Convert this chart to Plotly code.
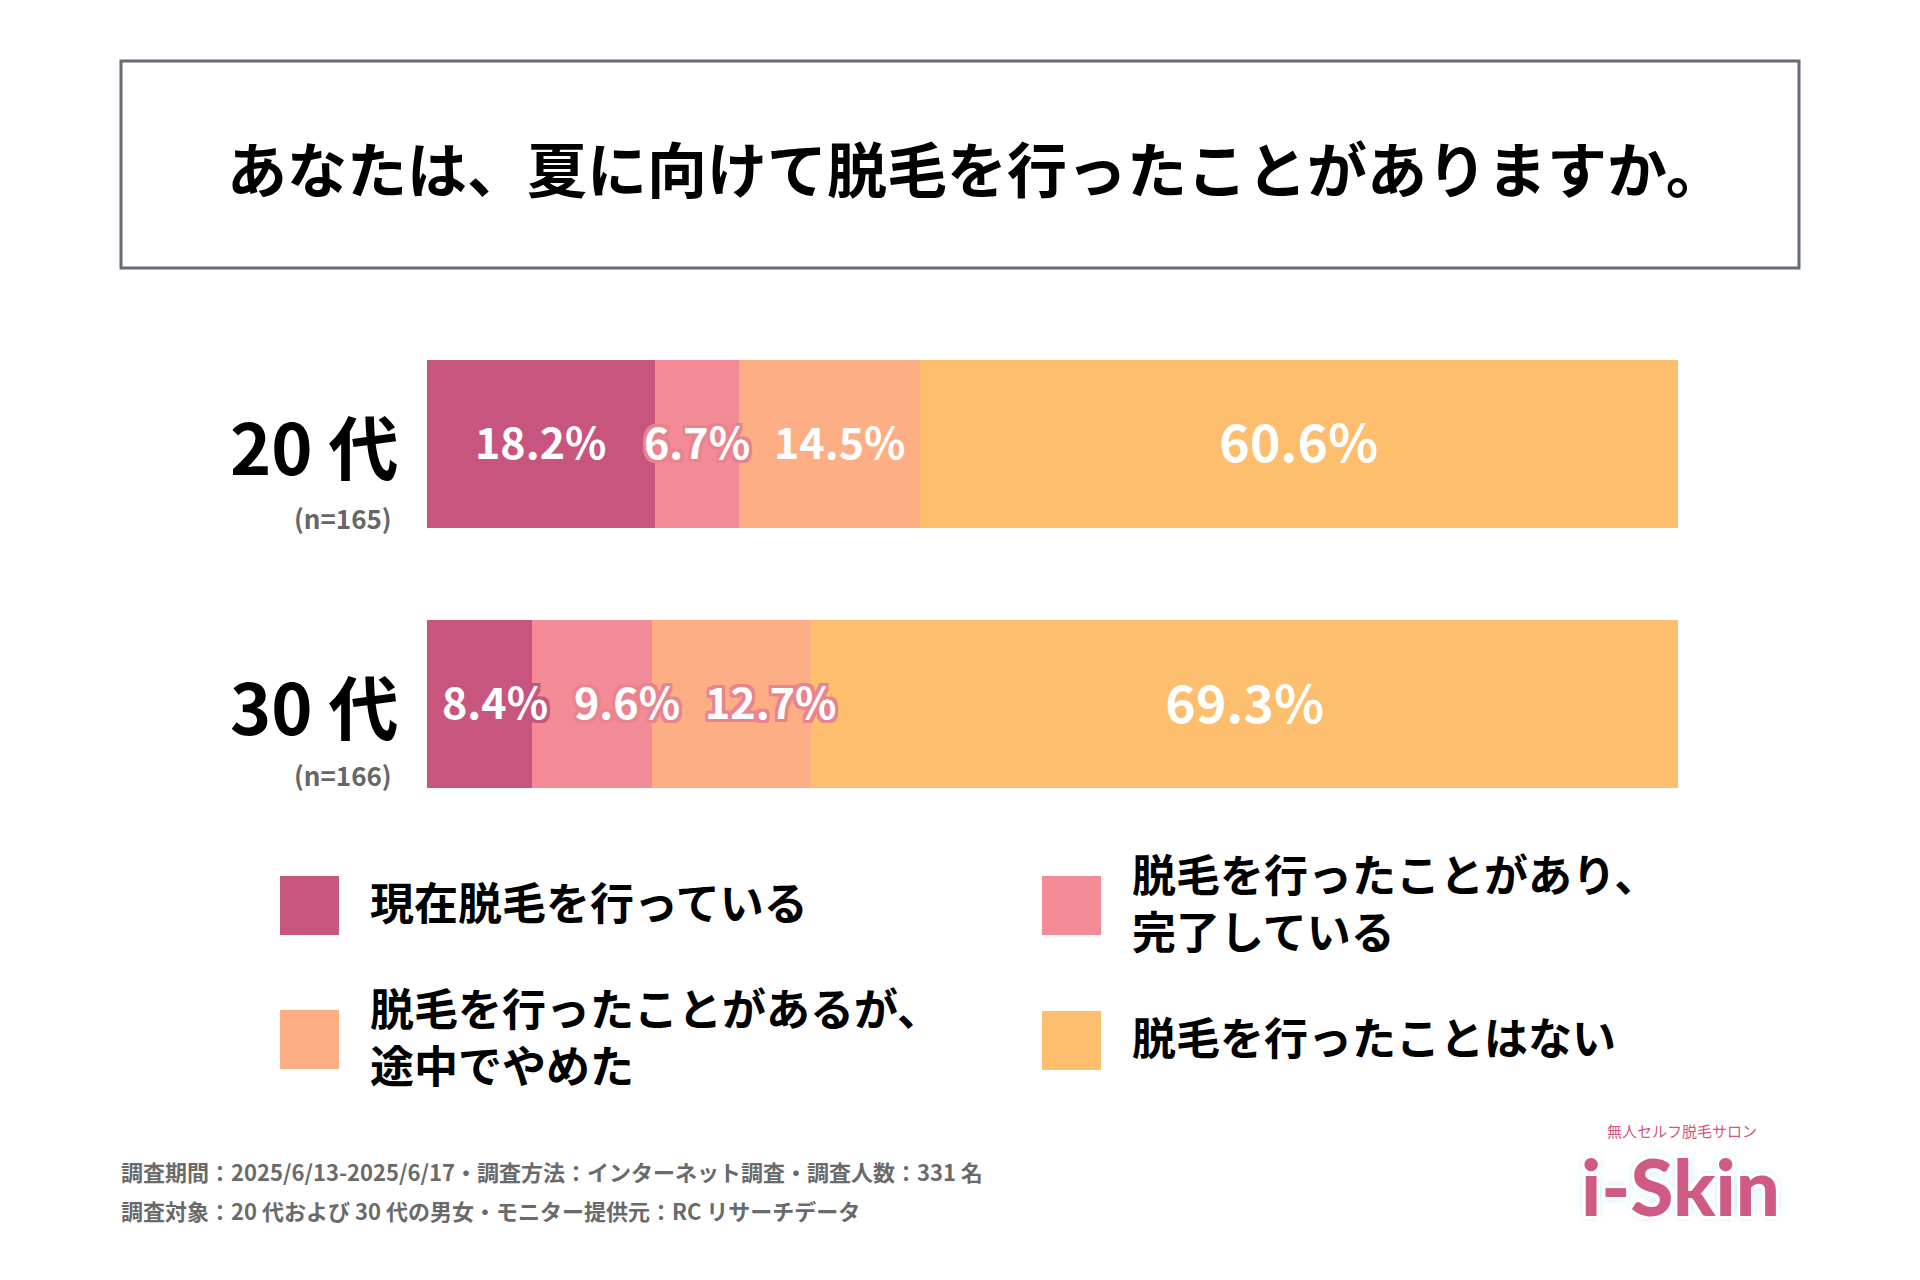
import plotly.graph_objects as go

# ---------------- data ----------------
title_text = "あなたは、夏に向けて脱毛を行ったことがありますか。"
age_groups = ["20代", "30代"]
age_labels = ["20 代", "30 代"]
sample_sizes = ["(n=165)", "(n=166)"]
series_names = [
    "現在脱毛を行っている",
    "脱毛を行ったことがあり、完了している",
    "脱毛を行ったことがあるが、途中でやめた",
    "脱毛を行ったことはない",
]
legend_lines = [
    ["現在脱毛を行っている"],
    ["脱毛を行ったことがあり、", "完了している"],
    ["脱毛を行ったことがあるが、", "途中でやめた"],
    ["脱毛を行ったことはない"],
]
current = [18.2, 8.4]
completed = [6.7, 9.6]
quit_mid = [14.5, 12.7]
never = [60.6, 69.3]
footnotes = [
    "調査期間：2025/6/13-2025/6/17・調査方法：インターネット調査・調査人数：331 名",
    "調査対象：20 代および 30 代の男女・モニター提供元：RC リサーチデータ",
]
logo_sub = "無人セルフ脱毛サロン"
logo_main = "i-Skin"

# ---------------- style ----------------
colors = ["#C8557E", "#F28B95", "#FDAE84", "#FDBF6D"]
FONT = "Noto Sans CJK JP"
LEG_FONT = "Lato, Noto Sans CJK JP"
OFF = 8                      # page body margin
W, H = 1920 - 2 * OFF, 1280 - 2 * OFF

def px(x):
    return (x - OFF) / W

def py(y):
    return 1 - (y - OFF) / H

series = [current, completed, quit_mid, never]

fig = go.Figure()
for name, vals, col in zip(series_names, series, colors):
    fig.add_trace(go.Bar(
        y=age_groups, x=vals, name=name, orientation="h",
        marker=dict(color=col, line=dict(width=0)),
        hoverinfo="skip", showlegend=False,
    ))

# value labels (annotations at segment midpoints)
label_shift = [[0, 0, 11, 0], [15, 35, 39, 0]]
label_size = [43, 43, 43, 52]
outline = [[None, "#E9848F", None, None], ["#C8557E", "#E9848F", "#E9848F", None]]

def outline_shadow(c, w=2):
    if c is None:
        return "none"
    offs = [(-w, -w), (w, -w), (-w, w), (w, w), (0, w), (w, 0), (0, -w), (-w, 0)]
    return ", ".join(f"{a}px {b}px 0 {c}" for a, b in offs)

for gi, g in enumerate(age_groups):
    cum = 0
    for si, vals in enumerate(series):
        v = vals[gi]
        fig.add_annotation(
            x=cum + v / 2, y=g, xref="x", yref="y",
            text=f"{v:.1f}%", showarrow=False,
            xanchor="center", yanchor="middle",
            xshift=label_shift[gi][si], yshift=4,
            font=dict(family=FONT, size=label_size[si], color="white", weight="bold",
                      shadow=outline_shadow(outline[gi][si], 3)),
        )
        cum += v

# category labels
cat_y = [444, 704]
n_y = [518, 774]
for lab, n, cy, ny in zip(age_labels, sample_sizes, cat_y, n_y):
    fig.add_annotation(x=px(401), y=py(cy), xref="paper", yref="paper",
                       text=lab, showarrow=False, xanchor="right", yanchor="middle",
                       font=dict(family=FONT, size=70, color="#000000", weight="bold"))
    fig.add_annotation(x=px(394), y=py(ny), xref="paper", yref="paper",
                       text=n, showarrow=False, xanchor="right", yanchor="middle",
                       font=dict(family=FONT, size=26, color="#666666", weight="bold"))

# title box
fig.add_shape(type="rect", xref="paper", yref="paper",
              x0=px(121), x1=px(1799), y0=py(61), y1=py(268),
              line=dict(color="#646B72", width=3), fillcolor="rgba(0,0,0,0)")
fig.add_annotation(x=px(977), y=py(166), xref="paper", yref="paper",
                   text=title_text, showarrow=False, xanchor="center", yanchor="middle",
                   font=dict(family=FONT, size=60, color="#000000", weight="bold"))

# custom legend
sq = [(280, 876), (1042, 876), (280, 1010), (1042, 1011)]
txt_x = [368, 1130, 368, 1130]
for i in range(4):
    x0, y0 = sq[i]
    fig.add_shape(type="rect", xref="paper", yref="paper",
                  x0=px(x0), x1=px(x0 + 59), y0=py(y0), y1=py(y0 + 59),
                  line=dict(width=0), fillcolor=colors[i])
    fig.add_annotation(x=px(txt_x[i]), y=py(y0 + 27), xref="paper", yref="paper",
                       text="<br>".join(legend_lines[i]), showarrow=False,
                       xanchor="left", yanchor="middle", align="left",
                       font=dict(family=LEG_FONT, size=44, color="#000000", weight="bold"))

# footnotes
for line, ly in zip(footnotes, [1171, 1210]):
    fig.add_annotation(x=px(119), y=py(ly), xref="paper", yref="paper",
                       text=line, showarrow=False, xanchor="left", yanchor="middle",
                       font=dict(family=FONT, size=22, color="#6A6A6A", weight="bold"))

# logo (text approximation)
fig.add_annotation(x=px(1682), y=py(1130), xref="paper", yref="paper",
                   text=logo_sub, showarrow=False, xanchor="center", yanchor="middle",
                   font=dict(family=FONT, size=15, color="#D0557F"))
fig.add_annotation(x=px(1680), y=py(1186), xref="paper", yref="paper",
                   text=logo_main, showarrow=False, xanchor="center", yanchor="middle",
                   font=dict(family="Lato", size=78, color="#CF5A83", weight=900,
                             shadow="3px 3px 0 #ffffff, -3px -3px 0 #ffffff, 3px -3px 0 #ffffff, -3px 3px 0 #ffffff, 0 0 8px #8FD3F0"))

fig.update_layout(
    width=W, height=H,
    margin=dict(l=0, r=0, t=0, b=0),
    paper_bgcolor="white", plot_bgcolor="white",
    barmode="stack", bargap=0.354,
    xaxis=dict(domain=[px(427), px(1678)], range=[0, 100], visible=False, fixedrange=True),
    yaxis=dict(domain=[py(834), py(314)], categoryorder="array", categoryarray=age_groups,
               range=[1.5, -0.5], visible=False, fixedrange=True),
    showlegend=False,
)

fig.write_html("out.html")
